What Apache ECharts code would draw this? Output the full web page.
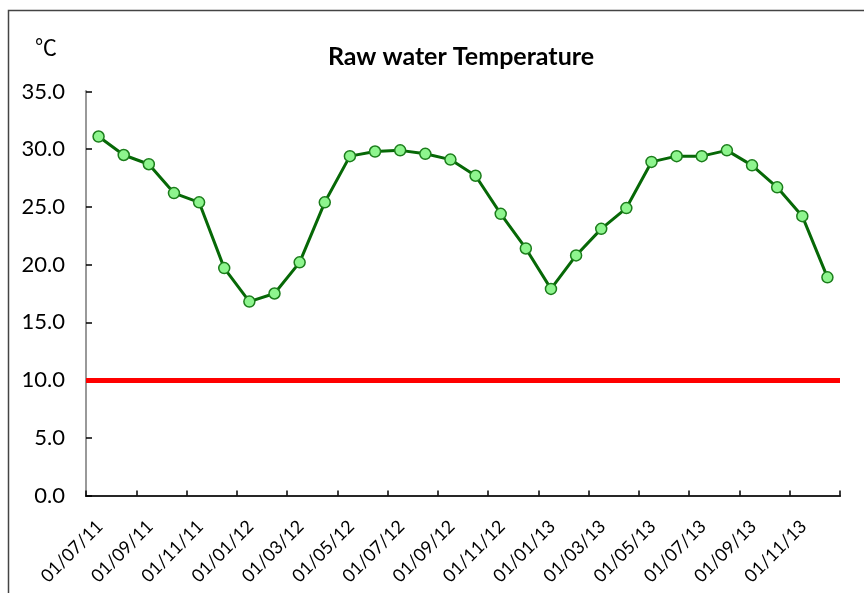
<!DOCTYPE html>
<html>
<head>
<meta charset="utf-8">
<script src="https://cdn.jsdelivr.net/npm/echarts@6/dist/echarts.min.js"></script>
<style>
  html, body { margin: 0; padding: 0; background: #fff; }
  #chart { width: 864px; height: 593px; }
</style>
</head>
<body>
<div id="chart"></div>
<script>
// Monthly raw water temperature, Jul 2011 – Dec 2013 (°C)
const months = [
  '2011-07','2011-08','2011-09','2011-10','2011-11','2011-12',
  '2012-01','2012-02','2012-03','2012-04','2012-05','2012-06',
  '2012-07','2012-08','2012-09','2012-10','2012-11','2012-12',
  '2013-01','2013-02','2013-03','2013-04','2013-05','2013-06',
  '2013-07','2013-08','2013-09','2013-10','2013-11','2013-12'
];
const temperature = [
  31.1, 29.5, 28.7, 26.2, 25.4, 19.7,
  16.8, 17.5, 20.2, 25.4, 29.4, 29.8,
  29.9, 29.6, 29.1, 27.7, 24.4, 21.4,
  17.9, 20.8, 23.1, 24.9, 28.9, 29.4,
  29.4, 29.9, 28.6, 26.7, 24.2, 18.9
];
// Date labels placed on every second month boundary
const tickLabels = [
  '01/07/11','01/09/11','01/11/11','01/01/12','01/03/12',
  '01/05/12','01/07/12','01/09/12','01/11/12','01/01/13',
  '01/03/13','01/05/13','01/07/13','01/09/13','01/11/13'
];
const threshold = 10;

const font = 'Lato, "Noto Sans", sans-serif';

// each month occupies one unit on the x scale; the point sits mid-month
const points = temperature.map((v, i) => [i + 0.5, v]);

// ticks on every second month boundary; rotated labels sit just past their tick
const tickValues = tickLabels.map((_, k) => 2 * k).concat([months.length]);
const labelNudge = 0.55;
const labelValues = tickLabels.map((_, k) => 2 * k + labelNudge);

const chart = echarts.init(document.getElementById('chart'));
chart.setOption({
  animation: false,
  backgroundColor: '#fff',
  title: {
    text: 'Raw water Temperature',
    left: 456,
    textAlign: 'center',
    top: 39,
    textStyle: { fontFamily: font, fontSize: 25, fontWeight: 'bold', color: '#000' }
  },
  graphic: [
    {
      type: 'rect',
      shape: { x: 8.5, y: 10.5, width: 900, height: 700 },
      style: { fill: 'none', stroke: '#444', lineWidth: 1.5 },
      silent: true
    },
    {
      type: 'text',
      left: 35,
      top: 37,
      style: { text: '℃', fontFamily: 'Lato, "Noto Sans CJK JP", sans-serif', fontSize: 22, fill: '#000' }
    }
  ],
  grid: { left: 86, right: 24, top: 91.5, bottom: 97.5, outerBoundsMode: 'none' },
  xAxis: [
    {
      type: 'value',
      min: 0,
      max: months.length,
      interval: 2,
      splitLine: { show: false },
      axisLine: { lineStyle: { color: '#000', width: 2 } },
      axisTick: {
        inside: true, length: 5, customValues: tickValues,
        lineStyle: { color: '#000', width: 1.5 }
      },
      axisLabel: {
        rotate: 45,
        margin: 28,
        customValues: labelValues,
        fontFamily: font,
        fontSize: 18,
        color: '#000',
        formatter: v => tickLabels[Math.round((v - labelNudge) / 2)] || ''
      }
    },
    {
      type: 'value',
      position: 'top',
      min: 0,
      max: months.length,
      splitLine: { show: false },
      axisLine: { show: true, lineStyle: { color: '#333', width: 1.5 } },
      axisTick: { show: false },
      axisLabel: { show: false }
    }
  ],
  yAxis: [
    {
      type: 'value',
      min: 0,
      max: 35,
      interval: 5,
      splitLine: { show: false },
      axisLine: { show: true, lineStyle: { color: '#000', width: 2 } },
      axisTick: { show: true, inside: true, length: 6, lineStyle: { color: '#000', width: 1.5 } },
      axisLabel: {
        margin: 21,
        fontFamily: font,
        fontSize: 22,
        color: '#000',
        formatter: v => v.toFixed(1)
      }
    },
    {
      type: 'value',
      position: 'right',
      min: 0,
      max: 35,
      splitLine: { show: false },
      axisLine: { show: true, lineStyle: { color: '#999', width: 2 } },
      axisTick: { show: false },
      axisLabel: { show: false }
    }
  ],
  series: [
    {
      type: 'line',
      data: points,
      symbol: 'circle',
      symbolSize: 11,
      lineStyle: { color: '#066806', width: 3 },
      itemStyle: { color: '#8ef58e', borderColor: '#1b7d1b', borderWidth: 1.5 },
      z: 3,
      markLine: {
        silent: true,
        symbol: 'none',
        label: { show: false },
        lineStyle: { color: '#ff0000', width: 5, type: 'solid' },
        data: [{ yAxis: threshold }]
      }
    }
  ]
});
</script>
</body>
</html>
